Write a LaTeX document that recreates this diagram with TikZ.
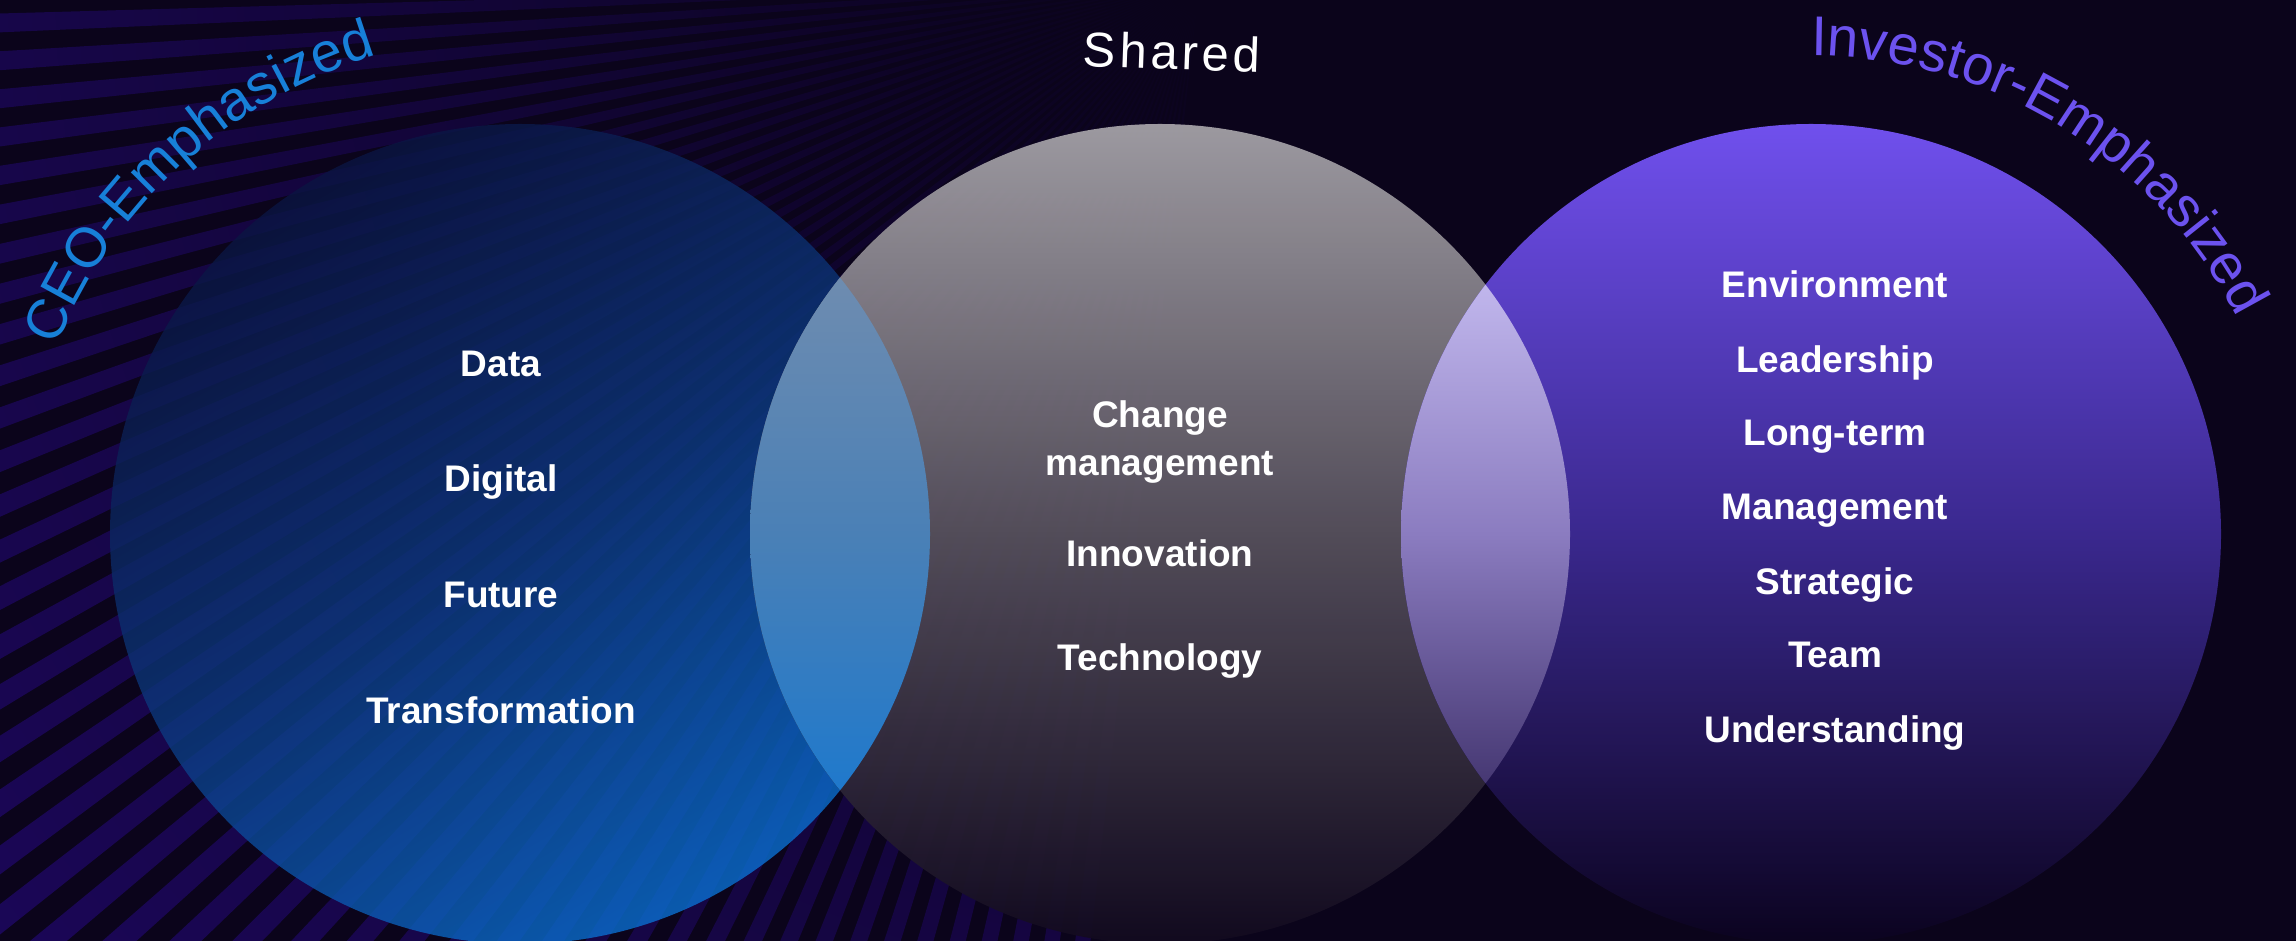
\documentclass[tikz,border=0pt]{standalone}
\usepackage{fontspec}
\setmainfont{Liberation Sans}
\usetikzlibrary{decorations.text,fadings,calc}
\definecolor{bgcol}{HTML}{0B041B}
\definecolor{stripecol}{HTML}{20086A}
\definecolor{ceoblue}{HTML}{1780D8}
\definecolor{invpurple}{HTML}{6C52EF}
\definecolor{lTop}{HTML}{0A1542}
\definecolor{lMid}{HTML}{0C3A80}
\definecolor{lBot}{HTML}{0A70D2}
\definecolor{mTop}{HTML}{A4A1A7}
\definecolor{mMid}{HTML}{56505C}
\definecolor{mBot}{HTML}{120A1F}
\definecolor{rTop}{HTML}{7453F4}
\definecolor{rMid}{HTML}{3C2A92}
\definecolor{rBot}{HTML}{0C0420}
\definecolor{llTop}{HTML}{6E8CB0}
\definecolor{llMid}{HTML}{4A80B6}
\definecolor{llBot}{HTML}{1F79CC}
\definecolor{rlTop}{HTML}{C0B6EC}
\definecolor{rlMid}{HTML}{8B7CC0}
\definecolor{rlBot}{HTML}{463873}
\newcommand\titlefnt{\fontsize{56}{60}\selectfont}
\tikzfading[name=centerfade, inner color=transparent!0, outer color=transparent!100]
\begin{document}
\begin{tikzpicture}[x=1pt,y=1pt,
  item/.style={text=white, font=\fontsize{37}{40}\selectfont\bfseries,
    text height=27pt, text depth=0pt, inner sep=0pt, anchor=center}]
\useasboundingbox (0,0) rectangle (2296,941);
\fill[bgcol] (0,0) rectangle (2296,941);
% background rays
\begin{scope}
  \clip (0,0) rectangle (2296,941);
  \foreach \a in {178,179.8,...,264}{
    \fill[stripecol, shift={(1200,961)}] (0,0) -- (\a:2600pt) -- (\a+0.9:2600pt) -- cycle;
  }
  \fill[bgcol, path fading=centerfade] (1200,961) circle (2000pt);
\end{scope}
% circles
\coordinate (L) at (520,407);
\coordinate (M) at (1160,407);
\coordinate (R) at (1811,407);
\shade[top color=lTop, bottom color=lBot, middle color=lMid, shading angle=30, fill opacity=0.8] (L) circle (410pt);
\shade[top color=mTop, bottom color=mBot, middle color=mMid, fill opacity=0.95] (M) circle (410pt);
\shade[top color=rTop, bottom color=rBot, middle color=rMid, fill opacity=0.97] (R) circle (410pt);
% lenses
\begin{scope}
  \clip (L) circle (410pt);
  \clip (M) circle (410pt);
  \shade[top color=llTop, bottom color=llBot, middle color=llMid] (740,151) rectangle (940,663);
\end{scope}
\begin{scope}
  \clip (M) circle (410pt);
  \clip (R) circle (410pt);
  \shade[top color=rlTop, bottom color=rlBot, middle color=rlMid] (1395,158) rectangle (1575,656);
\end{scope}
% titles
\path[decorate, decoration={text along path, text align=left,
   text={|\color{ceoblue}\titlefnt|CEO-Emphasized}}]
   ($(L)+(158:500pt)$) arc[start angle=158, end angle=95, radius=500pt];
\path[decorate, decoration={text along path, text align=left,
   text={|\color{invpurple}\titlefnt|Investor-Emphasized}}]
   ($(R)+(90:478pt)$) arc[start angle=90, end angle=15, radius=478pt];
\node[text=white, font=\fontsize{49}{52}\selectfont\addfontfeatures{LetterSpace=8},
  text height=35pt, text depth=0pt, inner sep=0pt, rotate=-2] (shared) at (1172,889) {Shared};
% left items
\node[item] (data) at (501,578) {Data};
\node[item] (digital) at (501,463) {Digital};
\node[item] (future) at (501,347) {Future};
\node[item] (transf) at (501,231) {Transformation};
% middle items
\node[item] (change) at (1160,527) {Change};
\node[item] (mgmt) at (1160,479) {management};
\node[item] (innov) at (1160,388) {Innovation};
\node[item] (tech) at (1160,284) {Technology};
% right items
\node[item] (env) at (1835,657) {Environment};
\node[item] (lead) at (1835,582) {Leadership};
\node[item] (long) at (1835,509) {Long-term};
\node[item] (manage) at (1835,435) {Management};
\node[item] (strat) at (1835,360) {Strategic};
\node[item] (team) at (1835,287) {Team};
\node[item] (under) at (1835,212) {Understanding};
\end{tikzpicture}
\end{document}
